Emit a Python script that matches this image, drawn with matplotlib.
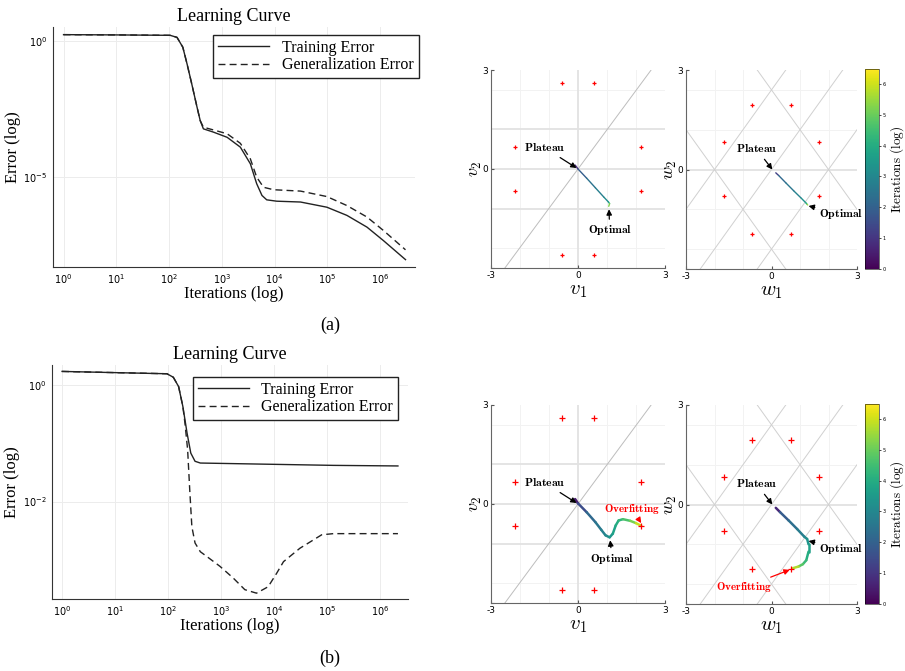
import matplotlib
matplotlib.use("Agg")
import matplotlib.pyplot as plt
import numpy as np
from matplotlib.collections import LineCollection
from matplotlib.cm import ScalarMappable
from matplotlib.colors import Normalize

plt.rcParams['font.family'] = ['DejaVu Sans']
plt.rcParams['mathtext.fontset'] = 'cm'
SERIF = ['Liberation Serif', 'DejaVu Serif']

# ---- learning curves (log10 iterations, log10 error) ----
a_train_x = [0, 1, 2.02, 2.15, 2.26, 2.34, 2.43, 2.53, 2.59, 2.65, 2.84, 3.1, 3.35, 3.54, 3.66, 3.76, 3.85, 4.04, 4.49, 4.99, 5.37, 5.75, 6.06, 6.48]
a_train_y = [0.22, 0.21, 0.195, 0.12, -0.24, -0.85, -1.59, -2.44, -2.93, -3.23, -3.35, -3.54, -3.9, -4.51, -5.24, -5.67, -5.83, -5.88, -5.91, -6.1, -6.4, -6.83, -7.32, -8.02]
a_gen_x = [0, 1, 2.02, 2.15, 2.26, 2.34, 2.43, 2.53, 2.59, 2.65, 2.84, 3.1, 3.35, 3.54, 3.66, 3.79, 3.98, 4.49, 4.99, 5.37, 5.75, 6.06, 6.48]
a_gen_y = [0.22, 0.21, 0.195, 0.12, -0.24, -0.85, -1.59, -2.44, -2.93, -3.17, -3.27, -3.41, -3.76, -4.33, -5.0, -5.37, -5.46, -5.51, -5.71, -6.04, -6.46, -6.95, -7.66]

b_train_x = [0, 0.97, 1.98, 2.1, 2.2, 2.28, 2.36, 2.43, 2.51, 2.61, 3.86, 5.12, 6.34]
b_train_y = [0.23, 0.21, 0.19, 0.13, -0.03, -0.37, -0.83, -1.17, -1.31, -1.34, -1.36, -1.38, -1.39]
b_gen_x = [0, 0.97, 1.98, 2.1, 2.2, 2.28, 2.32, 2.37, 2.41, 2.45, 2.51, 2.61, 2.73, 2.98, 3.23, 3.45, 3.67, 3.89, 4.05, 4.18, 4.49, 4.74, 4.9, 5.12, 6.34]
b_gen_y = [0.23, 0.21, 0.19, 0.13, -0.03, -0.37, -0.66, -1.11, -1.8, -2.43, -2.71, -2.86, -2.94, -3.11, -3.31, -3.51, -3.57, -3.46, -3.23, -3.03, -2.8, -2.66, -2.57, -2.55, -2.55]

# ---- weight-space trajectories (x, y, log10 iteration) ----
a_v_x = [-0.1, 0.0, 0.3, 0.6, 0.9, 1.05, 1.09, 1.06]
a_v_y = [0.12, 0.0, -0.28, -0.57, -0.86, -1.0, -1.05, -1.13]
a_v_c = [0.0, 1.5, 2.3, 2.6, 2.9, 3.3, 4.0, 6.48]
a_w_x = [0.15, 0.25, 0.5, 0.8, 1.05, 1.2, 1.25, 1.27]
a_w_y = [-0.1, -0.18, -0.4, -0.66, -0.87, -1.0, -1.05, -1.07]
a_w_c = [0.5, 2.0, 2.4, 2.7, 3.0, 3.5, 4.5, 6.48]
b_v_x = [-0.1, 0.0, 0.3, 0.6, 0.8, 0.95, 1.09, 1.2, 1.3, 1.4, 1.55, 1.8, 2.0, 2.18]
b_v_y = [0.15, 0.02, -0.25, -0.55, -0.78, -0.95, -1.01, -0.9, -0.65, -0.5, -0.46, -0.51, -0.58, -0.66]
b_v_c = [0.0, 1.0, 2.0, 2.4, 2.7, 2.95, 3.3, 3.6, 3.85, 4.1, 4.4, 4.9, 5.4, 6.48]
b_w_x = [0.15, 0.3, 0.6, 0.9, 1.15, 1.25, 1.3, 1.3, 1.22, 1.1, 0.95, 0.75]
b_w_y = [-0.1, -0.23, -0.48, -0.74, -0.97, -1.04, -1.2, -1.42, -1.68, -1.8, -1.87, -1.92]
b_w_c = [0.0, 1.5, 2.2, 2.5, 2.9, 3.2, 3.5, 3.8, 4.2, 4.6, 5.0, 6.48]

# teacher / symmetry points
v_pts_x = [-0.55, 0.55, -2.17, 2.17, -2.17, 2.17, -0.55, 0.55]
v_pts_y = [2.6, 2.6, 0.66, 0.66, -0.66, -0.66, -2.6, -2.6]
w_pts_x = [-0.68, 0.68, -1.65, 1.65, -1.65, 1.65, -0.68, 0.68]
w_pts_y = [1.95, 1.95, 0.82, 0.82, -0.8, -0.8, -1.93, -1.93]

w_line_slopes = [1.2, 1.2, 1.2, -1.2, -1.2]
w_line_icepts = [0.0, 2.4, -2.4, 2.4, -2.4]

CMAX = 6.48
norm = Normalize(0, CMAX)
cmap = plt.get_cmap('viridis')

W, H = 905, 671
fig = plt.figure(figsize=(W / 100, H / 100), dpi=100)


def rect(l, t, r, b):
    return [l / W, 1 - b / H, (r - l) / W, (b - t) / H]


def learning_curve(ax, tx, ty, gx, gy, ylim, xlim, yticks, leg_anchor):
    ax.plot(10 ** np.array(tx), 10 ** np.array(ty), color='#222222', lw=1.0, label='Training Error')
    ax.plot(10 ** np.array(gx), 10 ** np.array(gy), color='#222222', lw=1.0, ls=(0, (5, 3)),
            label='Generalization Error')
    ax.set_xscale('log')
    ax.set_yscale('log')
    ax.set_xlim(10 ** xlim[0], 10 ** xlim[1])
    ax.set_ylim(10 ** ylim[0], 10 ** ylim[1])
    ax.set_xticks([10.0 ** k for k in range(7)])
    ax.set_yticks(yticks)
    ax.minorticks_off()
    ax.tick_params(labelsize=7, length=0, pad=4)
    ax.grid(True, color='#ececec', lw=0.7)
    for s in ['top', 'right']:
        ax.spines[s].set_visible(False)
    for s in ['left', 'bottom']:
        ax.spines[s].set_color('#333333')
    ax.set_title('Learning Curve', family=SERIF, fontsize=13, pad=4)
    ax.set_xlabel('Iterations (log)', family=SERIF, fontsize=12, labelpad=0)
    ax.set_ylabel('Error (log)', family=SERIF, fontsize=12, labelpad=2)
    leg = ax.legend(loc='upper right', bbox_to_anchor=leg_anchor, prop={'family': SERIF, 'size': 11.5},
                    fancybox=False, edgecolor='#222222', framealpha=1, handlelength=3.2,
                    borderpad=0.3, labelspacing=0.1, borderaxespad=0)
    leg.get_frame().set_linewidth(1.0)


def traj(ax, xs, ys, cs, lw):
    pts = np.column_stack([xs, ys])
    segs = np.stack([pts[:-1], pts[1:]], axis=1)
    cmid = (np.array(cs[:-1]) + np.array(cs[1:])) / 2
    lc = LineCollection(segs, cmap=cmap, norm=norm, linewidths=lw, capstyle='round')
    lc.set_array(cmid)
    ax.add_collection(lc)


def weight_axes(ax, name, kind, px, py, ms):
    ax.set_xlim(-3, 3)
    ax.set_ylim(-3, 3)
    for g in [-2, -1, 1, 2]:
        ax.axvline(g, color='#f2f2f2', lw=0.7, zorder=0)
    for g in [-2.4, 2.4] + ([-1.2, 1.2] if kind == 'w' else []):
        ax.axhline(g, color='#f2f2f2', lw=0.7, zorder=0)
    if kind == 'v':
        ax.axvline(0, color='#e2e2e2', lw=1.3, zorder=1)
        for g in [-1.2, 0, 1.2]:
            ax.axhline(g, color='#e2e2e2', lw=1.3, zorder=1)
        ax.axline((0, 0), slope=1.19, color='#bdbdbd', lw=0.7, zorder=1)
    else:
        ax.axhline(0, color='#e2e2e2', lw=1.3, zorder=1)
        for m, b in zip(w_line_slopes, w_line_icepts):
            ax.axline((0, b), slope=m, color='#d0d0d0', lw=0.7, zorder=1)
    ax.plot(px, py, ls='none', marker='+', color='red', ms=ms, mew=0.9, zorder=3)
    ax.set_xticks([-3, 0, 3])
    ax.set_xticklabels(['-3', '0', '3'])
    ax.set_yticks([-3, 0, 3])
    ax.set_yticklabels(['', '0', '3'])
    ax.tick_params(labelsize=6.5, length=2, direction='in', pad=2, color='#555555')
    for s in ['top', 'right']:
        ax.spines[s].set_visible(False)
    for s in ['left', 'bottom']:
        ax.spines[s].set_color('#666666')
    ax.set_xlabel(r'$%s_1$' % name, fontsize=15, labelpad=0)
    ax.set_ylabel(r'$%s_2$' % name, fontsize=13, labelpad=-1)


def note(ax, text, tip, pos, color='k', size=8.5):
    ax.annotate(text, xy=tip, xytext=pos, ha='center', va='center', fontsize=size, color=color,
                annotation_clip=False,
                arrowprops=dict(arrowstyle='-|>', color=color, lw=0.9, mutation_scale=8,
                                shrinkA=1, shrinkB=0))


def colorbar(rc):
    cax = fig.add_axes(rc)
    cb = fig.colorbar(ScalarMappable(norm=norm, cmap=cmap), cax=cax)
    cb.set_ticks(range(7))
    cb.ax.tick_params(labelsize=3.5, length=1.5, width=0.5, pad=1)
    cb.outline.set_linewidth(0.4)
    cb.set_label(r'$\mathrm{Iterations\ (log)}$', fontsize=9.5, labelpad=2)


# ---------------- row (a) ----------------
ax = fig.add_axes(rect(53, 27, 415, 267))
learning_curve(ax, a_train_x, a_train_y, a_gen_x, a_gen_y, (-8.29, 0.5), (-0.2, 6.66),
               [1e-5, 1.0], (1.01, 0.967))

ax = fig.add_axes(rect(491, 70, 665, 268))
weight_axes(ax, 'v', 'v', v_pts_x, v_pts_y, 3)
traj(ax, a_v_x, a_v_y, a_v_c, 1.0)
note(ax, r'$\mathbf{Plateau}$', (-0.05, 0.03), (-1.16, 0.65))
note(ax, r'$\mathbf{Optimal}$', (1.07, -1.22), (1.09, -1.86))

ax = fig.add_axes(rect(686, 70, 857, 269))
weight_axes(ax, 'w', 'w', w_pts_x, w_pts_y, 3)
traj(ax, a_w_x, a_w_y, a_w_c, 1.0)
note(ax, r'$\mathbf{Plateau}$', (0.03, 0.0), (-0.53, 0.62))
note(ax, r'$\mathbf{Optimal}$', (1.3, -1.1), (2.44, -1.33))

colorbar(rect(865, 69, 879, 269))

# ---------------- row (b) ----------------
ax = fig.add_axes(rect(52, 365, 408, 599))
learning_curve(ax, b_train_x, b_train_y, b_gen_x, b_gen_y, (-3.67, 0.34), (-0.19, 6.53),
               [1e-2, 1.0], (0.972, 0.949))

ax = fig.add_axes(rect(491, 405, 665, 603))
weight_axes(ax, 'v', 'v', v_pts_x, v_pts_y, 4)
traj(ax, b_v_x, b_v_y, b_v_c, 1.8)
note(ax, r'$\mathbf{Plateau}$', (-0.05, 0.03), (-1.16, 0.65))
note(ax, r'$\mathbf{Optimal}$', (1.11, -1.1), (1.17, -1.66))
note(ax, r'$\mathbf{Overfitting}$', (2.18, -0.58), (1.86, -0.15), color='red', size=8)

ax = fig.add_axes(rect(686, 405, 857, 604))
weight_axes(ax, 'w', 'w', w_pts_x, w_pts_y, 4)
traj(ax, b_w_x, b_w_y, b_w_c, 1.8)
note(ax, r'$\mathbf{Plateau}$', (0.03, 0.0), (-0.53, 0.62))
note(ax, r'$\mathbf{Optimal}$', (1.3, -1.1), (2.44, -1.33))
note(ax, r'$\mathbf{Overfitting}$', (0.64, -1.97), (-0.97, -2.5), color='red', size=8)

colorbar(rect(865, 404, 879, 604))

fig.text(330 / W, 1 - 325 / H, '(a)', ha='center', va='center', family=SERIF, fontsize=13)
fig.text(330 / W, 1 - 658 / H, '(b)', ha='center', va='center', family=SERIF, fontsize=13)

fig.savefig('out.png', dpi=100)
